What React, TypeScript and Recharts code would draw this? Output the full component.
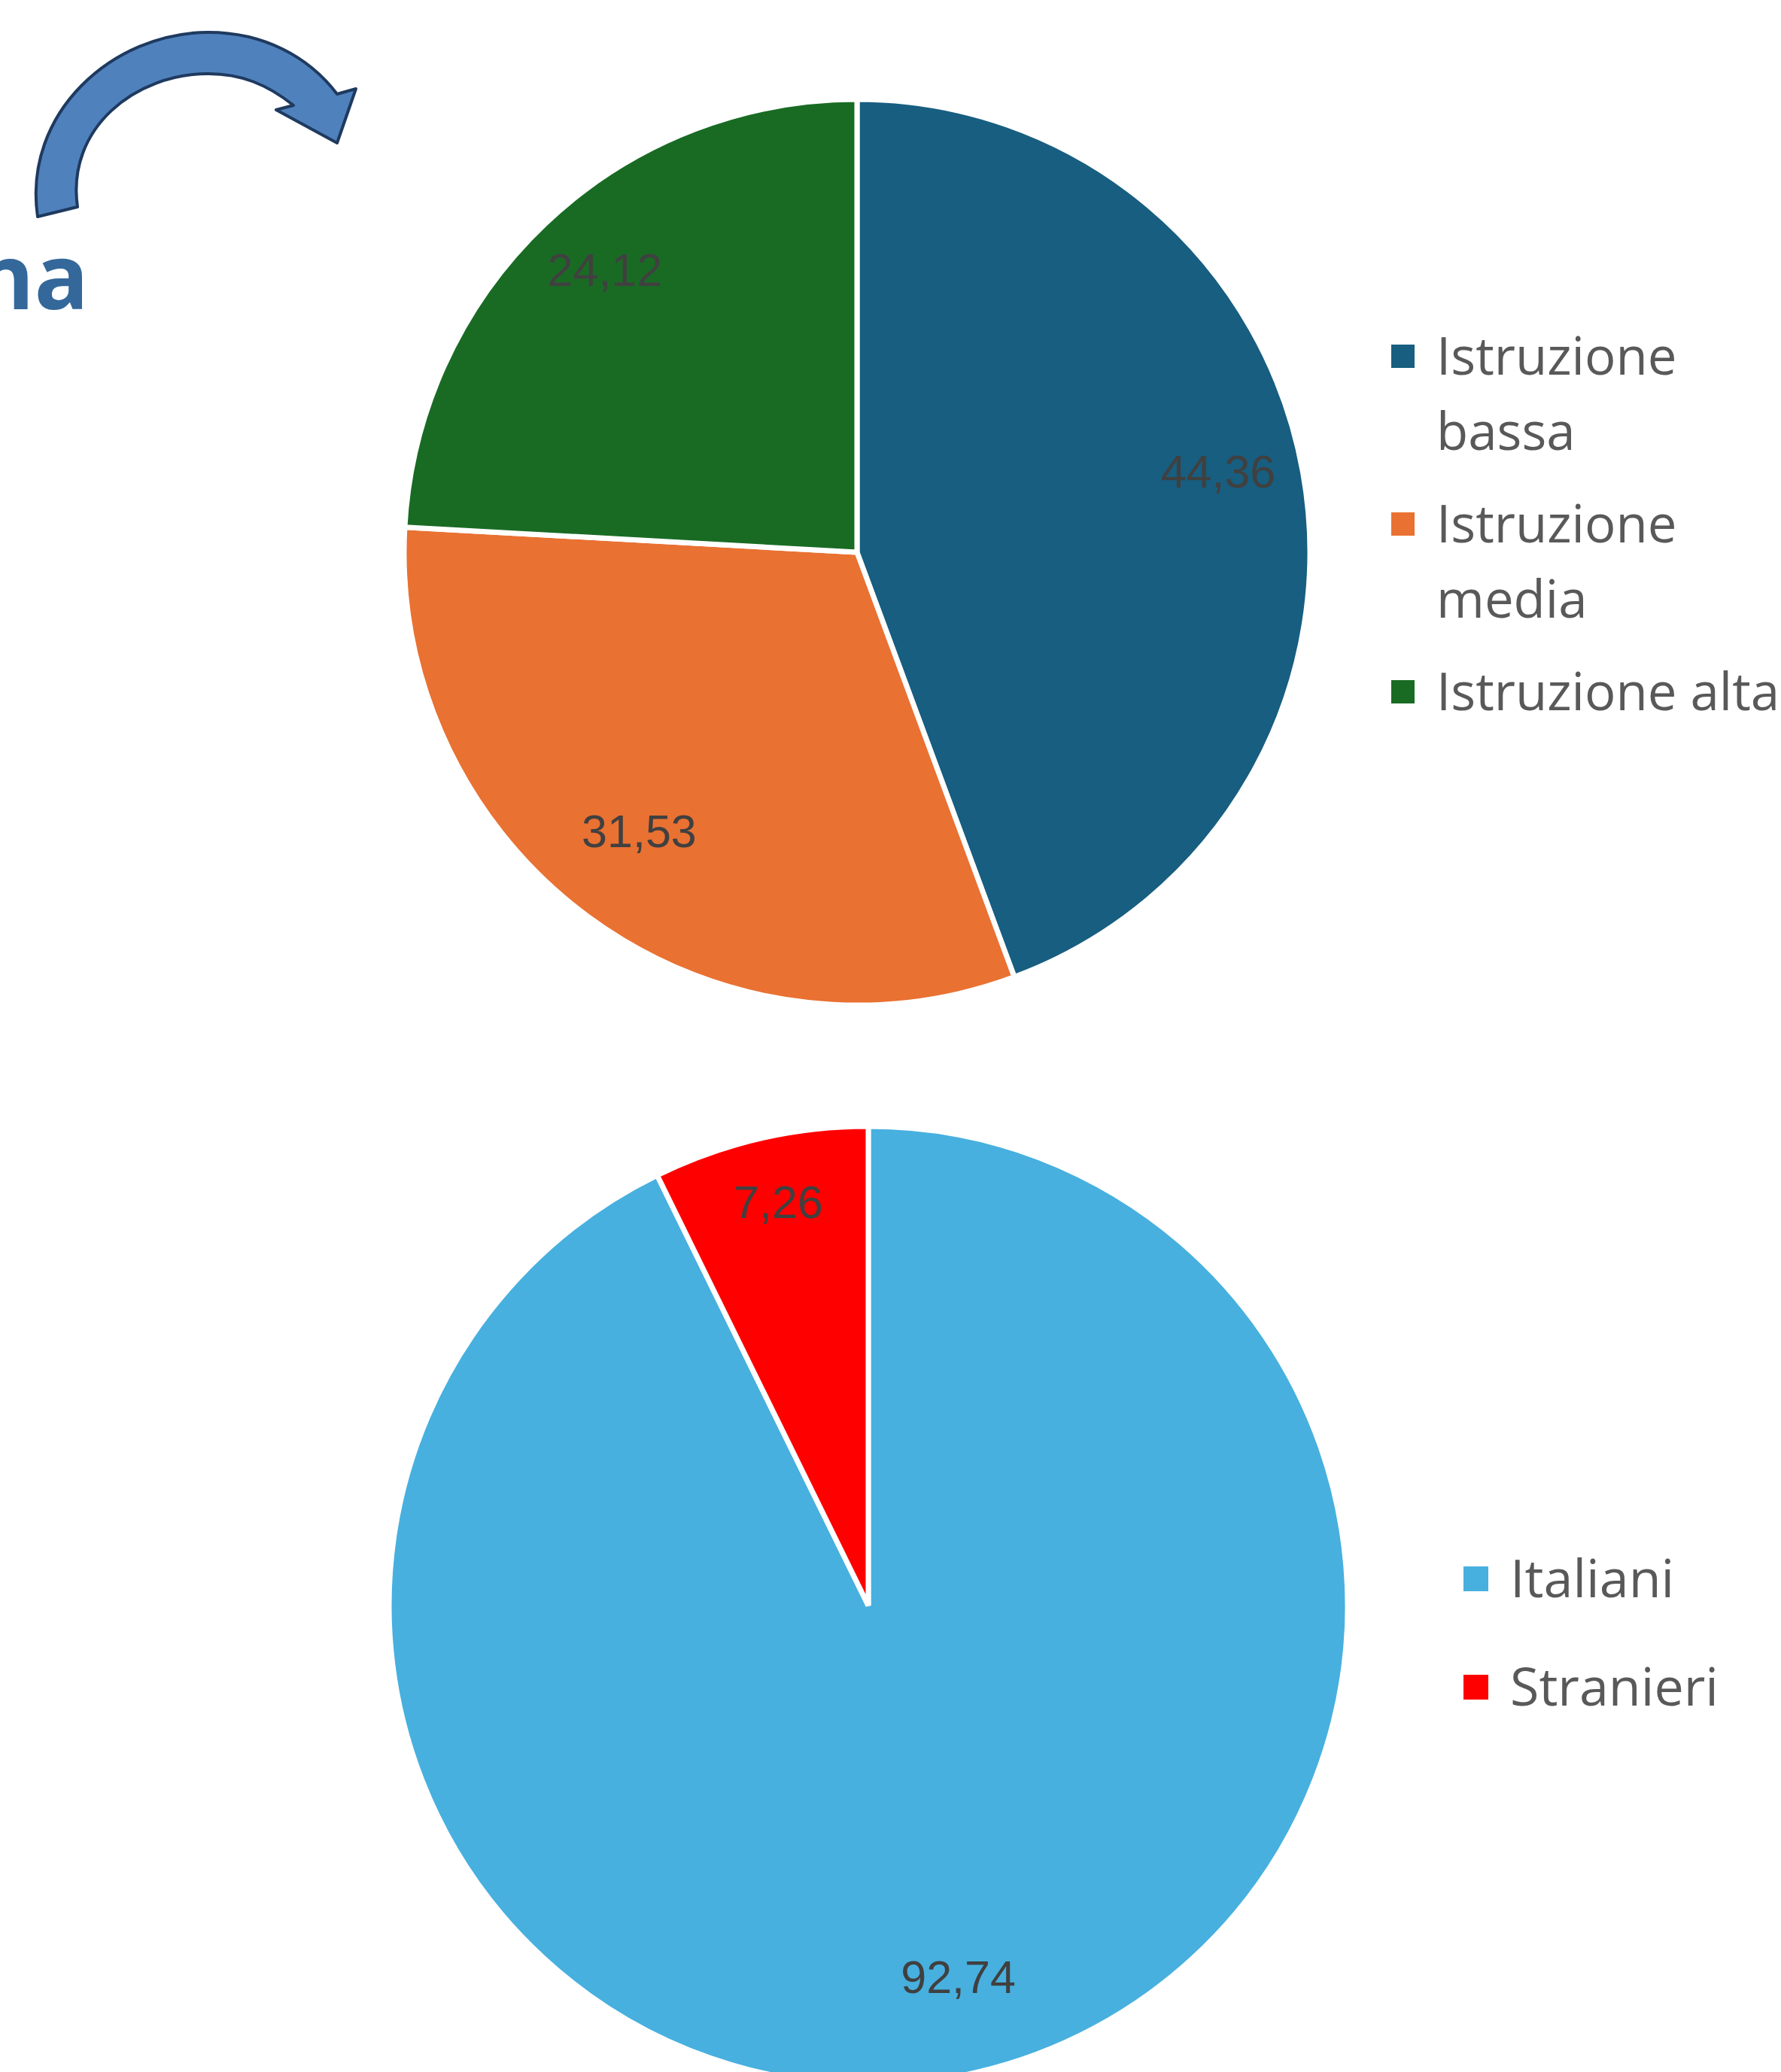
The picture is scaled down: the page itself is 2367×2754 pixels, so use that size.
import React from "react";
import { PieChart, Pie, Cell, Legend } from "recharts";

// top pie: education level
const istruzioneNames = ["Istruzione bassa", "Istruzione media", "Istruzione alta"];
const istruzioneValues = [44.36, 31.53, 24.12];
const istruzioneColors = ["#175E80", "#E97132", "#196B24"];

// bottom pie: nationality
const nazionalitaNames = ["Italiani", "Stranieri"];
const nazionalitaValues = [92.74, 7.26];
const nazionalitaColors = ["#47B0DF", "#FF0000"];

const istruzioneData = istruzioneNames.map((name, i) => ({ name, value: istruzioneValues[i] }));
const nazionalitaData = nazionalitaNames.map((name, i) => ({ name, value: nazionalitaValues[i] }));

const RAD = Math.PI / 180;
const fmt = (v: number) => v.toFixed(2).replace(".", ",");
const noMargin = { top: 0, right: 0, bottom: 0, left: 0 };

const makeLabel = (ratio: number) => (props: any) => {
  const { cx, cy, midAngle, outerRadius, value } = props;
  const r = outerRadius * ratio;
  const x = cx + r * Math.cos(-midAngle * RAD);
  const y = cy + r * Math.sin(-midAngle * RAD);
  return (
    <text
      x={x}
      y={y}
      textAnchor="middle"
      fill="#404040"
      fontSize={61}
      fontFamily="Liberation Sans, Arial, sans-serif"
    >
      {fmt(value)}
    </text>
  );
};

type LegendOpts = {
  order: string[];
  fontSize: number;
  lineHeight: number;
  square: number;
  squareTop: number;
  gap: number;
  textWidth: number;
  textGap: number;
};

const makeLegend = (opts: LegendOpts) => (props: any) => {
  // keep the legend in data order (recharts sorts it by name otherwise)
  const items = [...(props.payload || [])].sort(
    (a: any, b: any) => opts.order.indexOf(a.value) - opts.order.indexOf(b.value)
  );
  return (
    <div>
      {items.map((entry: any, i: number) => (
        <div key={i} style={{ display: "flex", alignItems: "flex-start", marginBottom: opts.gap }}>
          <div
            style={{
              width: opts.square,
              height: opts.square,
              background: entry.color,
              marginTop: opts.squareTop,
              marginRight: opts.textGap,
              flexShrink: 0,
            }}
          />
          <div
            style={{
              width: opts.textWidth,
              fontSize: opts.fontSize,
              lineHeight: `${opts.lineHeight}px`,
              color: "#595959",
              fontFamily: "'Open Sans', sans-serif",
            }}
          >
            {entry.value}
          </div>
        </div>
      ))}
    </div>
  );
};

export default function App() {
  return (
    <div
      style={{
        position: "absolute",
        left: 0,
        top: 0,
        width: 2367,
        height: 2754,
        overflow: "hidden",
        background: "#fff",
      }}
    >
      {/* decoration from the slide: curved arrow and cut-off title */}
      <svg width={520} height={450} style={{ position: "absolute", left: 0, top: 0 }}>
        <path
          d="M 50 288 C 30 150 150 43 277 43 C 350 43 410 75 448 125 L 473 118 L 448 190 L 367 146 L 390 140 C 355 112 320 98 277 98 C 180 98 88 170 103 275 Z"
          fill="#4F81BD"
          stroke="#1F3A5F"
          strokeWidth={4}
          strokeLinejoin="round"
        />
        <text
          x={118}
          y={411}
          textAnchor="end"
          fill="#34689A"
          fontSize={120}
          fontWeight={700}
          fontFamily="'Open Sans', sans-serif"
        >
          na
        </text>
      </svg>

      <div style={{ position: "absolute", left: 0, top: 0 }}>
        <PieChart width={2367} height={1400} margin={noMargin}>
          <Pie
            data={istruzioneData}
            dataKey="value"
            nameKey="name"
            cx={1139}
            cy={734}
            outerRadius={602}
            startAngle={90}
            endAngle={-270}
            stroke="#FFFFFF"
            strokeWidth={7}
            label={makeLabel(0.81)}
            labelLine={false}
            isAnimationActive={false}
          >
            {istruzioneData.map((d, i) => (
              <Cell key={d.name} fill={istruzioneColors[i]} />
            ))}
          </Pie>
          <Legend
            layout="vertical"
            content={makeLegend({
              order: istruzioneNames,
              fontSize: 69,
              lineHeight: 100,
              square: 31,
              squareTop: 37,
              gap: 23,
              textWidth: 490,
              textGap: 29,
            })}
            wrapperStyle={{ left: 1849, top: 421, width: 560, right: "auto", bottom: "auto" }}
          />
        </PieChart>
      </div>

      <div style={{ position: "absolute", left: 0, top: 1400 }}>
        <PieChart width={2367} height={1354} margin={noMargin}>
          <Pie
            data={nazionalitaData}
            dataKey="value"
            nameKey="name"
            cx={1154}
            cy={734}
            outerRadius={637}
            startAngle={90}
            endAngle={-270}
            stroke="#FFFFFF"
            strokeWidth={7}
            label={makeLabel(0.83)}
            labelLine={false}
            isAnimationActive={false}
          >
            {nazionalitaData.map((d, i) => (
              <Cell key={d.name} fill={nazionalitaColors[i]} />
            ))}
          </Pie>
          <Legend
            layout="vertical"
            content={makeLegend({
              order: nazionalitaNames,
              fontSize: 70,
              lineHeight: 95,
              square: 33,
              squareTop: 33,
              gap: 49,
              textWidth: 380,
              textGap: 29,
            })}
            wrapperStyle={{ left: 1945, top: 649, width: 440, right: "auto", bottom: "auto" }}
          />
        </PieChart>
      </div>
    </div>
  );
}
